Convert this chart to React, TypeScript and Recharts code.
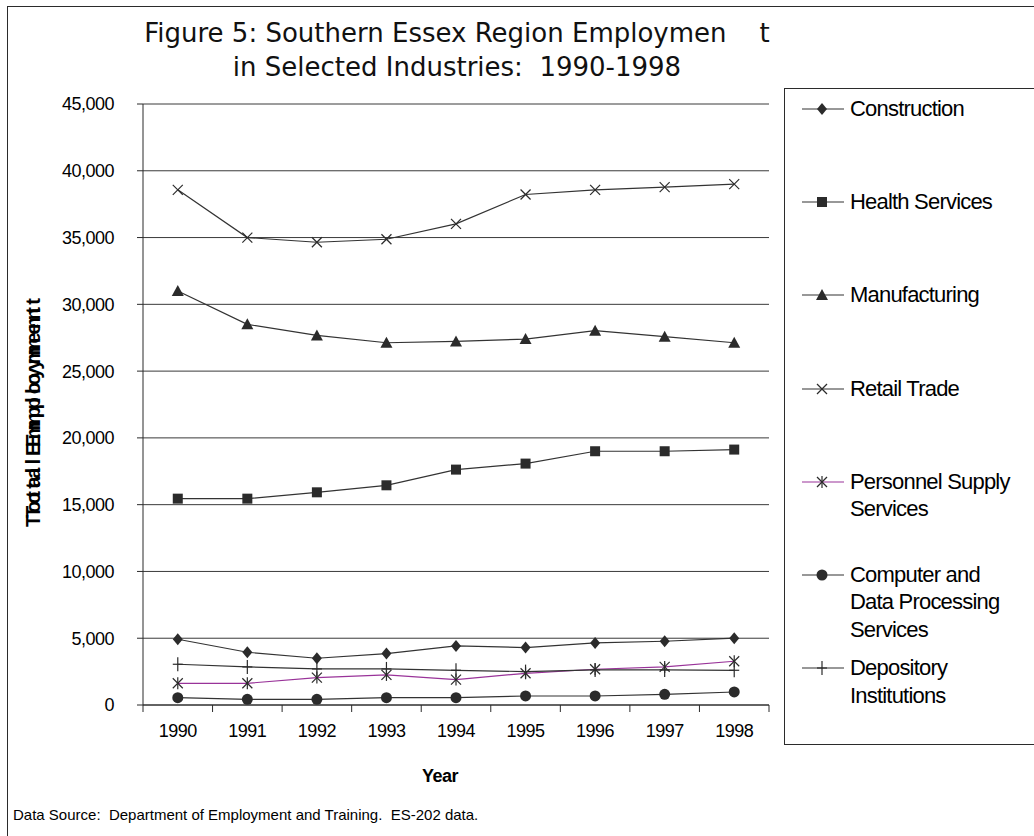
import React from 'react';
import { LineChart, Line, XAxis, YAxis, CartesianGrid } from 'recharts';

const YEARS = ['1990', '1991', '1992', '1993', '1994', '1995', '1996', '1997', '1998'];

const CONSTRUCTION = [4925, 3950, 3500, 3850, 4425, 4300, 4650, 4775, 5000];
const HEALTH_SERVICES = [15450, 15450, 15925, 16450, 17625, 18075, 19000, 19000, 19125];
const MANUFACTURING = [31000, 28500, 27675, 27125, 27225, 27400, 28025, 27575, 27125];
const RETAIL_TRADE = [38575, 35000, 34650, 34875, 36025, 38225, 38575, 38775, 39000];
const PERSONNEL_SUPPLY = [1625, 1625, 2050, 2250, 1900, 2375, 2675, 2850, 3275];
const COMPUTER_DATA = [550, 425, 425, 550, 550, 675, 675, 800, 975];
const DEPOSITORY = [3050, 2850, 2700, 2700, 2600, 2500, 2625, 2625, 2600];

const Y_TICKS = [0, 5000, 10000, 15000, 20000, 25000, 30000, 35000, 40000, 45000];

const TITLE_LINES = ['Figure 5: Southern Essex Region Employmen    t', 'in Selected Industries:  1990-1998'];
const Y_TITLE = 'Total Employment';
const X_TITLE = 'Year';
const SOURCE_NOTE = 'Data Source:  Department of Employment and Training.  ES-202 data.';

type MarkerKind = 'diamond' | 'square' | 'triangle' | 'cross' | 'star' | 'circle' | 'plus';

type Series = {
  key: string;
  label: string[];
  values: number[];
  color: string;
  marker: MarkerKind;
};

const SERIES: Series[] = [
  { key: 'construction', label: ['Construction'], values: CONSTRUCTION, color: '#333', marker: 'diamond' },
  { key: 'health', label: ['Health Services'], values: HEALTH_SERVICES, color: '#333', marker: 'square' },
  { key: 'manufacturing', label: ['Manufacturing'], values: MANUFACTURING, color: '#333', marker: 'triangle' },
  { key: 'retail', label: ['Retail Trade'], values: RETAIL_TRADE, color: '#333', marker: 'cross' },
  { key: 'personnel', label: ['Personnel Supply', 'Services'], values: PERSONNEL_SUPPLY, color: '#993399', marker: 'star' },
  { key: 'computer', label: ['Computer and', 'Data Processing', 'Services'], values: COMPUTER_DATA, color: '#333', marker: 'circle' },
  { key: 'depository', label: ['Depository', 'Institutions'], values: DEPOSITORY, color: '#333', marker: 'plus' },
];

const data = YEARS.map((year, i) => {
  const row: Record<string, string | number> = { year };
  SERIES.forEach((s) => {
    row[s.key] = s.values[i];
  });
  return row;
});

// layout of the plot box
const W = 1034;
const H = 836;
const PLOT_LEFT = 143;
const PLOT_TOP = 104;
const PLOT_RIGHT = 769;
const PLOT_BOTTOM = 705;
const Y_AXIS_W = 80;
const X_AXIS_H = 40;
const BAND = (PLOT_RIGHT - PLOT_LEFT) / YEARS.length;

const INK = '#2b2b2b';
const ARIAL = '"Liberation Sans", Arial, sans-serif';

function drawMarker(kind: MarkerKind, cx: number, cy: number, fill: string) {
  switch (kind) {
    case 'diamond':
      return <polygon points={`${cx},${cy - 6} ${cx + 5},${cy} ${cx},${cy + 6} ${cx - 5},${cy}`} fill={fill} />;
    case 'square':
      return <rect x={cx - 5} y={cy - 5} width={10} height={10} fill={fill} />;
    case 'triangle':
      return <polygon points={`${cx},${cy - 6} ${cx + 6},${cy + 5} ${cx - 6},${cy + 5}`} fill={fill} />;
    case 'cross':
      return (
        <g stroke={fill} strokeWidth={1.2}>
          <line x1={cx - 5} y1={cy - 5} x2={cx + 5} y2={cy + 5} />
          <line x1={cx - 5} y1={cy + 5} x2={cx + 5} y2={cy - 5} />
        </g>
      );
    case 'star':
      return (
        <g stroke={fill} strokeWidth={1.2}>
          <line x1={cx - 5} y1={cy - 5} x2={cx + 5} y2={cy + 5} />
          <line x1={cx - 5} y1={cy + 5} x2={cx + 5} y2={cy - 5} />
          <line x1={cx} y1={cy - 6} x2={cx} y2={cy + 6} />
        </g>
      );
    case 'circle':
      return <circle cx={cx} cy={cy} r={5.5} fill={fill} />;
    case 'plus':
      return (
        <g stroke={fill} strokeWidth={1.2}>
          <line x1={cx} y1={cy - 7} x2={cx} y2={cy + 7} />
          <line x1={cx - 5} y1={cy} x2={cx + 5} y2={cy} />
        </g>
      );
  }
}

const makeDot = (s: Series) => (props: any) => {
  const { cx, cy, index } = props;
  return <g key={`${s.key}-${index}`}>{drawMarker(s.marker, cx, cy, INK)}</g>;
};

// Excel style category ticks: marks sit between the years
function YearTick(props: any) {
  const { x, payload } = props;
  const half = BAND / 2;
  const last = payload.value === YEARS[YEARS.length - 1];
  return (
    <g>
      <line x1={x - half} x2={x - half} y1={PLOT_BOTTOM} y2={PLOT_BOTTOM + 7} stroke={INK} />
      {last && <line x1={x + half} x2={x + half} y1={PLOT_BOTTOM} y2={PLOT_BOTTOM + 7} stroke={INK} />}
      <text x={x} y={PLOT_BOTTOM + 32} textAnchor="middle" fill="#000" fontFamily={ARIAL} fontSize={18} letterSpacing={-0.5}>
        {payload.value}
      </text>
    </g>
  );
}

function Legend() {
  return (
    <div
      style={{
        position: 'absolute',
        left: 784,
        top: 88,
        width: 300,
        height: 657,
        border: `1px solid ${INK}`,
        boxSizing: 'border-box',
        paddingTop: 6,
      }}
    >
      {SERIES.map((s) => (
        <div key={s.key} style={{ height: 93.2, position: 'relative' }}>
          <svg width={50} height={28} style={{ position: 'absolute', left: 15, top: 0 }}>
            <line x1={2} x2={44} y1={14} y2={14} stroke={s.color} strokeWidth={1.2} />
            {drawMarker(s.marker, 22, 14, INK)}
          </svg>
          <div
            style={{
              position: 'absolute',
              left: 65,
              top: 0,
              fontFamily: ARIAL,
              fontSize: 22,
              lineHeight: '27.5px',
              letterSpacing: -0.8,
              color: '#000',
              whiteSpace: 'nowrap',
            }}
          >
            {s.label.map((line) => (
              <div key={line}>{line}</div>
            ))}
          </div>
        </div>
      ))}
    </div>
  );
}

export default function App() {
  return (
    <div style={{ position: 'absolute', left: 0, top: 0, width: W, height: H, overflow: 'hidden', background: '#fff' }}>
      <div
        style={{
          position: 'absolute',
          left: 7,
          top: 6,
          width: 1100,
          height: 900,
          border: `1px solid ${INK}`,
        }}
      />
      <LineChart
        width={W}
        height={H}
        data={data}
        margin={{ top: PLOT_TOP, left: PLOT_LEFT - Y_AXIS_W, right: W - PLOT_RIGHT, bottom: H - PLOT_BOTTOM - X_AXIS_H }}
        style={{ position: 'absolute', left: 0, top: 0 }}
      >
        <CartesianGrid vertical={false} stroke="#3a3a3a" strokeWidth={1} />
        <XAxis
          dataKey="year"
          height={X_AXIS_H}
          padding={{ left: BAND / 2, right: BAND / 2 }}
          tickLine={false}
          axisLine={{ stroke: INK }}
          tick={<YearTick />}
          interval={0}
        />
        <YAxis
          width={Y_AXIS_W}
          domain={[0, 45000]}
          ticks={Y_TICKS}
          interval={0}
          tickSize={6}
          tickMargin={23}
          axisLine={{ stroke: INK }}
          tickLine={{ stroke: INK }}
          tickFormatter={(v: number) => v.toLocaleString('en-US')}
          tick={{ fill: '#000', fontFamily: ARIAL, fontSize: 18, letterSpacing: -0.5 }}
        />
        <YAxis
          yAxisId="frame"
          orientation="right"
          width={0}
          domain={[0, 45000]}
          tick={false}
          tickLine={false}
          axisLine={{ stroke: INK }}
        />
        {SERIES.map((s) => (
          <Line
            key={s.key}
            dataKey={s.key}
            name={s.label.join(' ')}
            type="linear"
            stroke={s.color}
            strokeWidth={1.2}
            dot={makeDot(s)}
            activeDot={false}
            isAnimationActive={false}
          />
        ))}
      </LineChart>

      <svg width={W} height={H} style={{ position: 'absolute', left: 0, top: 0, pointerEvents: 'none' }}>
        {TITLE_LINES.map((line, i) => (
          <text
            key={line}
            x={457}
            y={42 + i * 34}
            textAnchor="middle"
            fontFamily='"DejaVu Sans", Verdana, sans-serif'
            fontSize={26}
            fill="#111"
            style={{ whiteSpace: 'pre' }}
          >
            {line}
          </text>
        ))}
        {/* axis title is printed twice, slightly out of register */}
        <g transform="translate(40, 527) rotate(-90)">
          <text x={0} y={0} fontFamily={ARIAL} fontWeight="bold" fontSize={20} letterSpacing={3.2} fill="#000">
            {Y_TITLE}
          </text>
          <text x={9} y={0} fontFamily={ARIAL} fontWeight="bold" fontSize={20} letterSpacing={3.2} fill="#000">
            {Y_TITLE}
          </text>
        </g>
        <text x={440} y={782} textAnchor="middle" fontFamily={ARIAL} fontWeight="bold" fontSize={18} letterSpacing={-0.5} fill="#000">
          {X_TITLE}
        </text>
        <text x={13} y={820} fontFamily={ARIAL} fontSize={15} fill="#000" style={{ whiteSpace: 'pre' }}>
          {SOURCE_NOTE}
        </text>
      </svg>

      <Legend />
    </div>
  );
}
